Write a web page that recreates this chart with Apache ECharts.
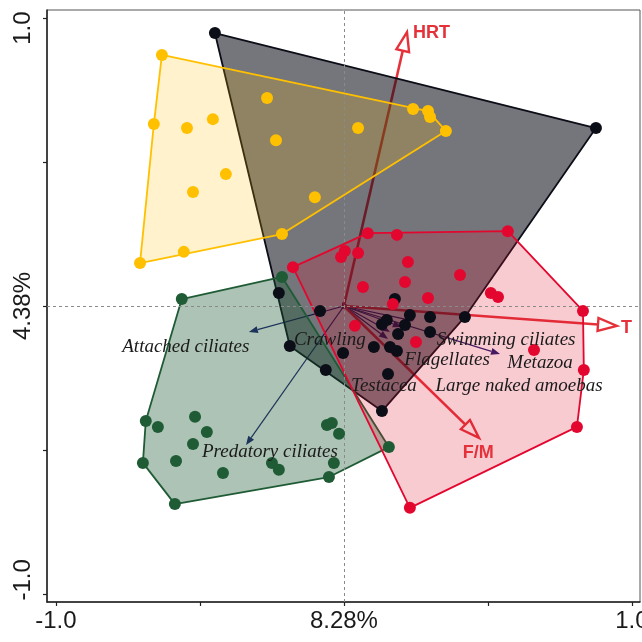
<!DOCTYPE html>
<html>
<head>
<meta charset="utf-8">
<title>Ordination biplot</title>
<script src="https://cdn.jsdelivr.net/npm/echarts@6/dist/echarts.min.js"></script>
<style>
  html, body { margin: 0; padding: 0; background: #ffffff; }
  #chart { width: 642px; height: 642px; }
</style>
</head>
<body>
<div id="chart"></div>
<script>
// ---- Sample scores (axis 1, axis 2) per group ----
const groupYellow = [
  [-0.632, 0.872], [-0.660, 0.632], [-0.545, 0.618], [-0.455, 0.649],
  [-0.267, 0.722], [-0.236, 0.576], [0.049, 0.618], [0.240, 0.684],
  [0.292, 0.677], [0.299, 0.656], [0.354, 0.608], [-0.524, 0.396],
  [-0.410, 0.458], [-0.101, 0.378], [-0.215, 0.250], [-0.556, 0.188],
  [-0.708, 0.149]
];
const groupBlack = [
  [-0.448, 0.948], [0.875, 0.618], [-0.226, 0.045], [-0.083, -0.017],
  [-0.188, -0.139], [-0.063, -0.222], [-0.003, -0.163], [0.104, -0.142],
  [0.153, -0.236], [0.132, -0.365], [0.177, 0.024], [0.132, -0.063],
  [0.149, -0.049], [0.229, -0.031], [0.212, -0.066], [0.188, -0.097],
  [0.299, -0.038], [0.299, -0.090], [0.160, -0.142], [0.184, -0.156],
  [0.420, -0.038]
];
const groupRed = [
  [0.083, 0.253], [0.184, 0.247], [0.003, 0.191], [-0.010, 0.170],
  [0.049, 0.184], [-0.177, 0.135], [0.222, 0.153], [0.212, 0.083],
  [0.066, 0.066], [0.292, 0.028], [0.170, 0.007], [0.038, -0.069],
  [0.250, -0.125], [0.569, 0.260], [0.403, 0.108], [0.510, 0.045],
  [0.535, 0.031], [0.830, -0.017], [0.660, -0.153], [0.833, -0.222],
  [0.809, -0.420], [0.229, -0.701]
];
const groupGreen = [
  [-0.563, 0.024], [-0.215, 0.101], [-0.688, -0.399], [-0.646, -0.420],
  [-0.517, -0.385], [-0.476, -0.438], [-0.524, -0.479], [-0.583, -0.538],
  [-0.698, -0.545], [-0.420, -0.580], [-0.587, -0.688], [-0.059, -0.413],
  [-0.042, -0.406], [-0.017, -0.444], [-0.250, -0.545], [-0.226, -0.569],
  [-0.035, -0.545], [-0.052, -0.594], [0.156, -0.490]
];

// ---- Environmental variables (arrow tips) ----
const envNames = ['HRT', 'T', 'F/M'];
const envX = [0.219, 0.948, 0.469];
const envY = [0.951, -0.069, -0.458];
const envLabelX = [0.240, 0.962, 0.466];
const envLabelY = [0.948, -0.075, -0.510];

// ---- Functional groups (arrow tips and label anchors) ----
const speciesNames = ['Attached ciliates', 'Crawling', 'Testacea', 'Flagellates',
  'Swimming ciliates', 'Metazoa', 'Large naked amoebas', 'Predatory ciliates'];
const speciesX = [-0.330, 0.024, 0.153, 0.201, 0.243, 0.542, 0.160, -0.340];
const speciesY = [-0.090, -0.003, -0.115, -0.073, -0.052, -0.167, -0.090, -0.483];
const speciesLabelX = [-0.549, -0.049, 0.139, 0.358, 0.563, 0.681, 0.608, -0.257];
const speciesLabelY = [-0.142, -0.118, -0.278, -0.188, -0.118, -0.198, -0.278, -0.507];

// ---- Axis ticks ----
const tickValues = [-1, -0.5, 0, 0.5, 1];
const labelValues = [-1, 0, 1];
const xTickLabels = ['-1.0', '8.28%', '1.0'];
const yTickLabels = ['-1.0', '4.38%', '1.0'];

// Convex hull (monotone chain) of a point list
function convexHull(pts) {
  const p = pts.slice().sort((a, b) => a[0] - b[0] || a[1] - b[1]);
  const cross = (o, a, b) => (a[0] - o[0]) * (b[1] - o[1]) - (a[1] - o[1]) * (b[0] - o[0]);
  const lower = [];
  for (const q of p) {
    while (lower.length >= 2 && cross(lower[lower.length - 2], lower[lower.length - 1], q) <= 0) lower.pop();
    lower.push(q);
  }
  const upper = [];
  for (let i = p.length - 1; i >= 0; i--) {
    const q = p[i];
    while (upper.length >= 2 && cross(upper[upper.length - 2], upper[upper.length - 1], q) <= 0) upper.pop();
    upper.push(q);
  }
  upper.pop(); lower.pop();
  return lower.concat(upper);
}

const groups = [
  { pts: groupBlack,  color: '#0b0d17', fill: 'rgba(13,13,24,0.57)' },
  { pts: groupYellow, color: '#ffc000', fill: 'rgba(255,192,0,0.20)' },
  { pts: groupGreen,  color: '#1f5b35', fill: 'rgba(31,91,53,0.37)' },
  { pts: groupRed,    color: '#e3072f', fill: 'rgba(224,16,46,0.22)' }
];

// Arrow from the origin to a tip, head drawn in screen space
function arrowShape(api, tip, headLen, headHalf) {
  const o = api.coord([0, 0]);
  const t = api.coord(tip);
  const dx = t[0] - o[0], dy = t[1] - o[1];
  const len = Math.sqrt(dx * dx + dy * dy) || 1;
  const ux = dx / len, uy = dy / len;
  const bx = t[0] - ux * headLen, by = t[1] - uy * headLen;
  return {
    o: o, t: t, base: [bx, by],
    head: [t, [bx - uy * headHalf, by + ux * headHalf], [bx + uy * headHalf, by - ux * headHalf]]
  };
}

const series = [];

// Dashed zero lines
series.push({
  type: 'line', data: [], z: 1, silent: true,
  markLine: {
    silent: true, symbol: 'none', label: { show: false },
    lineStyle: { color: '#8a8a8a', width: 1, type: [3, 3] },
    data: [{ xAxis: 0 }, { yAxis: 0 }]
  }
});

// Functional group arrows (navy)
series.push({
  type: 'custom', z: 2, silent: true,
  data: speciesNames.map((n, i) => [speciesX[i], speciesY[i]]),
  renderItem: function (params, api) {
    const i = params.dataIndex;
    const a = arrowShape(api, [speciesX[i], speciesY[i]], 9, 3.5);
    return {
      type: 'group',
      children: [
        { type: 'line', shape: { x1: a.o[0], y1: a.o[1], x2: a.base[0], y2: a.base[1] },
          style: { stroke: '#1c1c72', lineWidth: 1.2 } },
        { type: 'polygon', shape: { points: a.head }, style: { fill: '#1c1c72' } }
      ]
    };
  }
});

// Environmental arrows (red, open heads)
series.push({
  type: 'custom', z: 2, silent: true,
  data: envNames.map((n, i) => [envX[i], envY[i]]),
  renderItem: function (params, api) {
    const i = params.dataIndex;
    const a = arrowShape(api, [envX[i], envY[i]], 19, 6.5);
    return {
      type: 'group',
      children: [
        { type: 'line', shape: { x1: a.o[0], y1: a.o[1], x2: a.base[0], y2: a.base[1] },
          style: { stroke: '#e5323a', lineWidth: 2.6 } },
        { type: 'polygon', shape: { points: a.head },
          style: { fill: '#ffffff', stroke: '#e5323a', lineWidth: 2.4, lineJoin: 'miter' } }
      ]
    };
  }
});

// Group hulls
groups.forEach(function (g, gi) {
  const hull = convexHull(g.pts);
  series.push({
    type: 'custom', z: 3 + gi * 0.1, silent: true,
    data: [hull[0]],
    renderItem: function (params, api) {
      return {
        type: 'polygon',
        shape: { points: hull.map(p => api.coord(p)) },
        style: { fill: g.fill, stroke: g.color, lineWidth: 1.8, lineJoin: 'round' }
      };
    }
  });
});

// Sample points
groups.forEach(function (g) {
  series.push({
    type: 'scatter', z: 5, silent: true,
    data: g.pts, symbol: 'circle', symbolSize: 12,
    itemStyle: { color: g.color, opacity: 1 }
  });
});

// Functional group labels
series.push({
  type: 'custom', z: 6, silent: true,
  data: speciesNames.map((n, i) => [speciesLabelX[i], speciesLabelY[i]]),
  renderItem: function (params, api) {
    const i = params.dataIndex;
    const p = api.coord([speciesLabelX[i], speciesLabelY[i]]);
    return {
      type: 'text', x: p[0], y: p[1],
      style: {
        text: speciesNames[i], fill: '#1a1a1a',
        fontFamily: '"Liberation Serif", "Times New Roman", serif',
        fontStyle: 'italic', fontSize: 19,
        align: 'center', verticalAlign: 'middle'
      }
    };
  }
});

// Environmental labels
series.push({
  type: 'custom', z: 6, silent: true,
  data: envNames.map((n, i) => [envLabelX[i], envLabelY[i]]),
  renderItem: function (params, api) {
    const i = params.dataIndex;
    const p = api.coord([envLabelX[i], envLabelY[i]]);
    return {
      type: 'text', x: p[0], y: p[1],
      style: {
        text: envNames[i], fill: '#e5323a',
        fontFamily: '"Liberation Sans", Arial, sans-serif',
        fontWeight: 'bold', fontSize: 18,
        align: envNames[i] === 'F/M' ? 'center' : 'left', verticalAlign: 'middle'
      }
    };
  }
});

const axisFont = '"Liberation Sans", Arial, sans-serif';

const chart = echarts.init(document.getElementById('chart'), null, { renderer: 'canvas' });
chart.setOption({
  animation: false,
  backgroundColor: '#ffffff',
  grid: {
    left: 47, right: 2, top: 10, bottom: 40,
    outerBoundsMode: 'none', containLabel: false,
    show: true, borderColor: '#555', borderWidth: 1, backgroundColor: 'transparent'
  },
  xAxis: {
    type: 'value', min: -1.031, max: 1.028,
    axisLine: { show: true, onZero: false, lineStyle: { color: '#222', width: 1.5 } },
    axisTick: { show: true, customValues: tickValues, length: 4, lineStyle: { color: '#222', width: 1.2 } },
    axisLabel: {
      customValues: labelValues, showMinLabel: true, showMaxLabel: true, hideOverlap: false,
      formatter: v => xTickLabels[labelValues.indexOf(v)],
      fontSize: 24, color: '#1a1a1a', fontFamily: axisFont, margin: 7
    },
    splitLine: { show: false }
  },
  yAxis: {
    type: 'value', min: -1.028, max: 1.028,
    axisLine: { show: true, onZero: false, lineStyle: { color: '#222', width: 1.5 } },
    axisTick: { show: true, customValues: tickValues, length: 4, lineStyle: { color: '#222', width: 1.2 } },
    axisLabel: {
      customValues: labelValues, showMinLabel: true, showMaxLabel: true, hideOverlap: false, rotate: 90,
      formatter: function (v) {
        const k = labelValues.indexOf(v);
        const style = k === 0 ? 'lo' : (k === 2 ? 'hi' : 'mid');
        return '{' + style + '|' + yTickLabels[k] + '}';
      },
      rich: {
        lo:  { fontSize: 24, color: '#1a1a1a', fontFamily: axisFont, padding: [0, 0, 0, 28] },
        mid: { fontSize: 24, color: '#1a1a1a', fontFamily: axisFont },
        hi:  { fontSize: 24, color: '#1a1a1a', fontFamily: axisFont, padding: [0, 20, 0, 0] }
      },
      fontSize: 24, color: '#1a1a1a', fontFamily: axisFont, margin: 12
    },
    splitLine: { show: false }
  },
  series: series
});
</script>
</body>
</html>
